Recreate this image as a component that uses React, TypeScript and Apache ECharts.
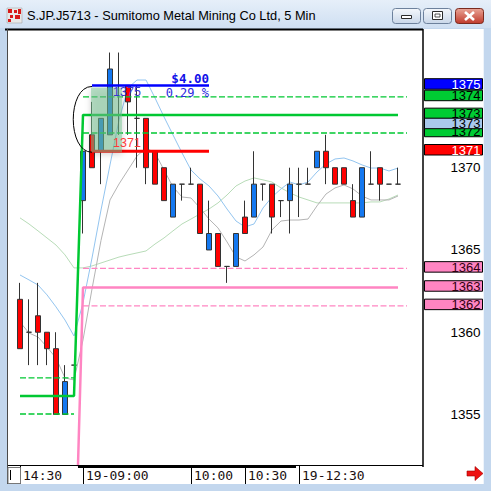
import { useEffect, useRef } from "react";
import * as echarts from "echarts";

// 5-minute bar times (previous afternoon, then the 19th)
const times = [
  "14:30", "14:35", "14:40", "14:45", "14:50", "14:55", "15:00",
  "19-09:00", "09:05", "09:10", "09:15", "09:20", "09:25", "09:30", "09:35", "09:40", "09:45", "09:50", "09:55",
  "10:00", "10:05", "10:10", "10:15", "10:20", "10:25",
  "10:30", "10:35", "10:40", "10:45", "10:50", "10:55",
  "19-12:30", "12:35", "12:40", "12:45", "12:50", "12:55", "13:00", "13:05", "13:10", "13:15", "13:20", "13:25",
  "13:30", "13:35",
];
const labelIndices = [0, 7, 19, 25, 31];

// [open, close, low, high]
const candles: number[][] = [
  [1362, 1359, 1359, 1363],
  [1360, 1360, 1358, 1362],
  [1361, 1360, 1358, 1363],
  [1360, 1359, 1358, 1360],
  [1359, 1355, 1355, 1360],
  [1355, 1357, 1355, 1358],
  [1358, 1358, 1358, 1358],
  [1368, 1371, 1366, 1371],
  [1372, 1370, 1370, 1374],
  [1371, 1373, 1369, 1373],
  [1372, 1376, 1372, 1377],
  [1375, 1375, 1372, 1377],
  [1375, 1374, 1372, 1375],
  [1373, 1373, 1370, 1375],
  [1373, 1370, 1369, 1373],
  [1371, 1369, 1369, 1371],
  [1370, 1368, 1368, 1370],
  [1367, 1369, 1367, 1369],
  [1369, 1369, 1368, 1369],
  [1369, 1369, 1369, 1370],
  [1369, 1366, 1366, 1369],
  [1365, 1366, 1365, 1368],
  [1366, 1364, 1364, 1366],
  [1364, 1364, 1363, 1364],
  [1364, 1366, 1364, 1366],
  [1367, 1366, 1366, 1368],
  [1367, 1369, 1367, 1371],
  [1369, 1369, 1368, 1369],
  [1369, 1367, 1366, 1369],
  [1368, 1368, 1367, 1368],
  [1368, 1369, 1366, 1370],
  [1369, 1369, 1367, 1370],
  [1369, 1369, 1369, 1370],
  [1370, 1371, 1370, 1371],
  [1371, 1370, 1369, 1372],
  [1370, 1369, 1369, 1370],
  [1370, 1369, 1369, 1370],
  [1368, 1367, 1367, 1369],
  [1367, 1370, 1367, 1370],
  [1369, 1369, 1369, 1371],
  [1370, 1369, 1368, 1370],
  [1369, 1369, 1369, 1369],
  [1369, 1369, 1369, 1370],
];

const maFast = [
  1363.48, 1363.18, 1362.87, 1362.27, 1361.54, 1360.74, 1359.77, 1361.78, 1364.51, 1367.43,
  1370.17, 1372.9, 1374.85, 1375.33, 1375.33, 1374.24, 1373.09, 1371.99, 1370.9, 1369.86,
  1369.32, 1368.89, 1368.28, 1367.49, 1366.76, 1366.4, 1366.58, 1367.55, 1368.22, 1368.71,
  1369.13, 1368.95, 1369.13, 1369.74, 1370.23, 1370.53, 1370.59, 1370.41, 1370.17, 1369.98,
  1369.98, 1369.8, 1369.98,
];
const maMid = [
  1360.62, 1359.95, 1359.71, 1359.1, 1358.43, 1357.22, 1357.1, 1359.53, 1362.63, 1365.58,
  1368.04, 1369.01, 1369.86, 1370.71, 1371.2, 1370.9, 1369.86, 1368.83, 1368.22, 1368.16,
  1367.55, 1366.88, 1366.34, 1365.49, 1364.58, 1364.33, 1364.7, 1365.18, 1366.22, 1366.76,
  1366.82, 1366.82, 1366.88, 1367.68, 1368.4, 1368.77, 1368.95, 1368.71, 1368.28, 1368.04,
  1368.04, 1368.04, 1368.28,
];
const maSlow = [
  1366.95, 1366.58, 1366.16, 1365.73, 1365.3, 1364.7, 1363.91, 1363.91, 1364.03, 1364.21,
  1364.39, 1364.57, 1364.7, 1364.82, 1364.94, 1365.36, 1365.73, 1366.16, 1366.58, 1366.88,
  1367.19, 1367.49, 1367.86, 1368.34, 1368.89, 1369.19, 1369.38, 1369.26, 1369.13, 1368.77,
  1368.47, 1368.22, 1368.04, 1367.86, 1367.86, 1367.86, 1367.86, 1367.86, 1367.86, 1367.92,
  1367.92, 1368.1, 1368.34,
];

// Band levels as [barIndex, price] vertices
const greenMid = [[0, 1356.12], [6, 1356.12], [7, 1373.21], [42, 1373.21]];
const greenUpperPrev = [[0, 1357.22], [6, 1357.22]];
const greenLowerPrev = [[0, 1355.03], [6, 1355.03]];
const greenUpper = [[7, 1374.3], [43, 1374.3]];
const greenLower = [[7, 1372.11], [43, 1372.11]];
const pinkMid = [[6, 1343.3], [7, 1362.72], [42, 1362.72]];
const pinkUpper = [[7, 1363.88], [43, 1363.88]];
const pinkLower = [[7, 1361.6], [43, 1361.6]];

// Price measurement drawn across bars 8..21
const measureHigh = 1375;
const measureLow = 1371;
const measureFrom = 8;
const measureTo = 21;

// Price tags on the right scale
const priceTags = [
  { value: 1375, bg: "#0000ff", fg: "#ffffff" },
  { value: 1374.3, bg: "#00cc33", fg: "#000000" },
  { value: 1373.21, bg: "#00cc33", fg: "#000000" },
  { value: 1372.11, bg: "#00cc33", fg: "#000000" },
  { value: 1372.6, bg: "#a9c8ec", fg: "#000000" },
  { value: 1371, bg: "#ff0000", fg: "#ffffff" },
  { value: 1363.88, bg: "#ff85c2", fg: "#300010" },
  { value: 1362.72, bg: "#ff85c2", fg: "#300010" },
  { value: 1361.6, bg: "#ff85c2", fg: "#300010" },
];

const yMin = 1351.93;
const yMax = 1378.37;

const GREEN = "#00c832";
const PINK = "#ff85c2";

function levelLine(data: number[][], color: string, width: number, dashed: boolean) {
  return {
    type: "line",
    data,
    symbol: "none",
    silent: true,
    z: 4,
    lineStyle: { color, width, type: dashed ? [6, 2.5] : "solid" },
  };
}

function maLine(data: number[], color: string) {
  return {
    type: "line",
    data,
    symbol: "none",
    silent: true,
    z: 2,
    lineStyle: { color, width: 1 },
  };
}

function buildGraphics(px: (i: number) => number, py: (v: number) => number) {
  const els: any[] = [];
  const vGrad = (a: string, b: string) => ({
    type: "linear", x: 0, y: 0, x2: 0, y2: 1,
    colorStops: [{ offset: 0, color: a }, { offset: 1, color: b }],
  });

  // chart surface
  els.push({ type: "rect", z: 0, shape: { x: 8, y: 29, width: 475, height: 455 }, style: { fill: "#ffffff" } });

  // title bar
  els.push({ type: "rect", z: 100, shape: { x: 0, y: 0, width: 491, height: 28 }, style: { fill: vGrad("#e6eff9", "#cfdff2") } });
  // icon
  els.push({ type: "rect", z: 101, shape: { x: 7, y: 8, width: 15, height: 15 }, style: { fill: "#e8e8e8", stroke: "#9a9a9a", lineWidth: 0.5 } });
  [[8, 9, 4, 4], [14, 10, 3, 3], [18, 9, 3, 5], [10, 15, 3, 3], [15, 15, 5, 4], [8, 19, 3, 3]].forEach((r) =>
    els.push({ type: "rect", z: 102, shape: { x: r[0], y: r[1], width: r[2], height: r[3] }, style: { fill: "#d81818" } })
  );
  els.push({
    type: "text", z: 101, x: 27, y: 15.5,
    style: { text: "S.JP.J5713 - Sumitomo Metal Mining Co Ltd, 5 Min", font: "12.8px 'Liberation Sans'", fill: "#000", verticalAlign: "middle" },
  });
  // window buttons
  els.push({ type: "rect", z: 101, shape: { x: 392.5, y: 8.5, width: 28, height: 15, r: 3 }, style: { fill: vGrad("#f4f7fb", "#c9d7e9"), stroke: "#6d819c" } });
  els.push({ type: "rect", z: 102, shape: { x: 401.5, y: 15.5, width: 10, height: 3 }, style: { fill: "#ffffff", stroke: "#2a2a2a" } });
  els.push({ type: "rect", z: 101, shape: { x: 423.5, y: 8.5, width: 28, height: 15, r: 3 }, style: { fill: vGrad("#f4f7fb", "#c9d7e9"), stroke: "#6d819c" } });
  els.push({ type: "rect", z: 102, shape: { x: 432.5, y: 11.5, width: 10, height: 8 }, style: { fill: "#ffffff", stroke: "#2a2a2a" } });
  els.push({ type: "rect", z: 103, shape: { x: 435, y: 14, width: 5, height: 3 }, style: { fill: "#ffffff", stroke: "#2a2a2a", lineWidth: 0.8 } });
  els.push({ type: "rect", z: 101, shape: { x: 455.5, y: 8.5, width: 28, height: 15, r: 3 }, style: { fill: vGrad("#e9a597", "#c0392b"), stroke: "#7a2a1e" } });
  els.push({ type: "line", z: 102, shape: { x1: 465, y1: 12, x2: 474, y2: 20 }, style: { stroke: "#ffffff", lineWidth: 2.6 } });
  els.push({ type: "line", z: 102, shape: { x1: 474, y1: 12, x2: 465, y2: 20 }, style: { stroke: "#ffffff", lineWidth: 2.6 } });

  // plot borders
  els.push({ type: "rect", z: 100, shape: { x: 5, y: 28.5, width: 418, height: 2 }, style: { fill: "#000" } });
  els.push({ type: "line", z: 100, shape: { x1: 7.5, y1: 29, x2: 7.5, y2: 484 }, style: { stroke: "#4a4a4a", lineWidth: 1 } });
  els.push({ type: "line", z: 100, shape: { x1: 423, y1: 29, x2: 423, y2: 467 }, style: { stroke: "#000", lineWidth: 1.5 } });
  els.push({ type: "line", z: 100, shape: { x1: 8, y1: 465.5, x2: 423, y2: 465.5 }, style: { stroke: "#000", lineWidth: 1 } });
  els.push({ type: "rect", z: 100, shape: { x: 78, y: 465, width: 218, height: 3 }, style: { fill: "#000" } });
  els.push({ type: "line", z: 100, shape: { x1: 483.5, y1: 29, x2: 483.5, y2: 484 }, style: { stroke: "#eef4fb", lineWidth: 1 } });
  // scroll box bottom-left
  els.push({ type: "rect", z: 100, shape: { x: 8, y: 467.5, width: 12.5, height: 16 }, style: { fill: "#ffffff", stroke: "#777", lineWidth: 1 } });
  els.push({ type: "line", z: 101, shape: { x1: 10.5, y1: 470, x2: 10.5, y2: 480 }, style: { stroke: "#000", lineWidth: 1 } });
  // scroll arrow
  els.push({
    type: "polygon", z: 100,
    shape: { points: [[467, 471], [475, 471], [475, 466.5], [483, 473.5], [475, 480.5], [475, 476], [467, 476]] },
    style: { fill: "#ee1111", stroke: "#a00000", lineWidth: 0.6 },
  });

  // measurement tool
  const xA = px(measureFrom);
  const xB = px(measureTo);
  const yH = py(measureHigh);
  const yL = py(measureLow);
  els.push({
    type: "rect", z: 50,
    shape: { x: xA - 1, y: yH + 2, width: px(measureFrom + 3) - xA + 4, height: yL - yH - 1 },
    style: { fill: "rgba(118,194,146,0.5)", shadowBlur: 6, shadowColor: "rgba(0,0,0,0.35)", shadowOffsetY: 2 },
  });
  els.push({
    type: "bezierCurve", z: 51,
    shape: { x1: xA, y1: yH + 1, cpx1: xA - 25, cpy1: yH + 1, cpx2: xA - 25, cpy2: yL + 1, x2: xA, y2: yL + 1 },
    style: { stroke: "#000", lineWidth: 1, fill: "none" },
  });
  const diff = measureHigh - measureLow;
  const pct = (diff / measureLow) * 100;
  els.push({
    type: "text", z: 52, x: xB, y: yH - 7,
    style: { text: "$" + diff.toFixed(2), font: "bold 12.5px 'DejaVu Sans Mono'", fill: "#1010e8", align: "right", verticalAlign: "middle" },
  });
  els.push({
    type: "text", z: 52, x: xB, y: yH + 7.5,
    style: { text: pct.toFixed(2) + " %", font: "12px 'DejaVu Sans Mono'", fill: "#2a2ae0", align: "right", verticalAlign: "middle" },
  });
  els.push({
    type: "text", z: 52, x: px(measureFrom + 4) - 1, y: yH + 7,
    style: { text: String(measureHigh), font: "12.5px 'Liberation Sans'", fill: "#3838d0", align: "center", verticalAlign: "middle" },
  });
  els.push({
    type: "text", z: 52, x: px(measureFrom + 4) - 1, y: yL - 8,
    style: { text: String(measureLow), font: "12.5px 'Liberation Sans'", fill: "#ff3a3a", align: "center", verticalAlign: "middle" },
  });

  // price tags
  priceTags.forEach((t, k) => {
    const cy = py(t.value) - 1.5;
    els.push({
      type: "rect", z: 110 + k * 2,
      shape: { x: 424.5, y: cy - 5.25, width: 58, height: 10.5 },
      style: { fill: t.bg, stroke: "#000", lineWidth: 1 },
    });
    els.push({
      type: "text", z: 111 + k * 2, x: 480.5, y: cy + 0.5,
      style: {
        text: String(Math.round(t.value)), font: "13px 'Liberation Sans'", lineHeight: 10,
        fill: t.fg, align: "right", verticalAlign: "middle",
      },
    });
  });

  return els;
}

const baseOption: any = {
  animation: false,
  backgroundColor: "#c3d7ee",
  grid: { left: 15.5, top: 30, width: 405, height: 435 },
  xAxis: {
    type: "category",
    data: times,
    boundaryGap: true,
    axisLine: { show: false },
    axisTick: {
      show: true,
      alignWithLabel: true,
      interval: (i: number) => labelIndices.includes(i),
      length: 19,
      lineStyle: { color: "#000", width: 1 },
    },
    axisLabel: {
      interval: (i: number) => labelIndices.includes(i),
      align: "left",
      padding: [0, 0, 0, 3],
      margin: 4,
      fontFamily: "'DejaVu Sans Mono'",
      fontSize: 13,
      color: "#201010",
    },
    splitLine: { show: false },
  },
  yAxis: {
    type: "value",
    position: "right",
    min: yMin,
    max: yMax,
    splitNumber: 5,
    axisLine: { show: false },
    axisTick: { show: false },
    splitLine: { show: false },
    axisLabel: {
      formatter: (v: number) => (Math.abs(v % 5) < 1e-6 ? String(v) : ""),
      align: "right",
      margin: 60,
      fontSize: 13.5,
      fontFamily: "'Liberation Sans'",
      color: "#000",
    },
  },
  series: [
    maLine(maSlow, "#b8dcb8"),
    maLine(maMid, "#b4b4b4"),
    maLine(maFast, "#93c5f0"),
    {
      type: "candlestick",
      data: candles,
      barWidth: 5,
      z: 3,
      silent: true,
      itemStyle: {
        color: "#1478f0",
        color0: "#ff0000",
        borderColor: "#333333",
        borderColor0: "#333333",
        borderColorDoji: "#333333",
        borderWidth: 1,
      },
    },
    levelLine(greenUpperPrev, GREEN, 1.3, true),
    levelLine(greenLowerPrev, GREEN, 1.3, true),
    levelLine(greenUpper, GREEN, 1.3, true),
    levelLine(greenLower, GREEN, 1.3, true),
    levelLine(pinkUpper, PINK, 1.3, true),
    levelLine(pinkLower, PINK, 1.3, true),
    levelLine(greenMid, GREEN, 2.5, false),
    levelLine(pinkMid, PINK, 2.5, false),
    levelLine([[measureFrom, measureHigh], [measureTo, measureHigh]], "#0000ff", 2.5, false),
    levelLine([[measureFrom, measureLow], [measureTo, measureLow]], "#ff0000", 3, false),
  ],
};

export default function App() {
  const ref = useRef<HTMLDivElement>(null);
  useEffect(() => {
    const el = ref.current;
    if (!el) return;
    const chart = echarts.init(el, null, { renderer: "svg" });
    chart.setOption(baseOption);
    const px = (i: number) => chart.convertToPixel({ xAxisIndex: 0 }, i) as unknown as number;
    const py = (v: number) => chart.convertToPixel({ yAxisIndex: 0 }, v) as unknown as number;
    chart.setOption({ graphic: buildGraphics(px, py) });
    return () => chart.dispose();
  }, []);
  return <div ref={ref} style={{ position: "fixed", left: 0, top: 0, width: 491, height: 491 }} />;
}
